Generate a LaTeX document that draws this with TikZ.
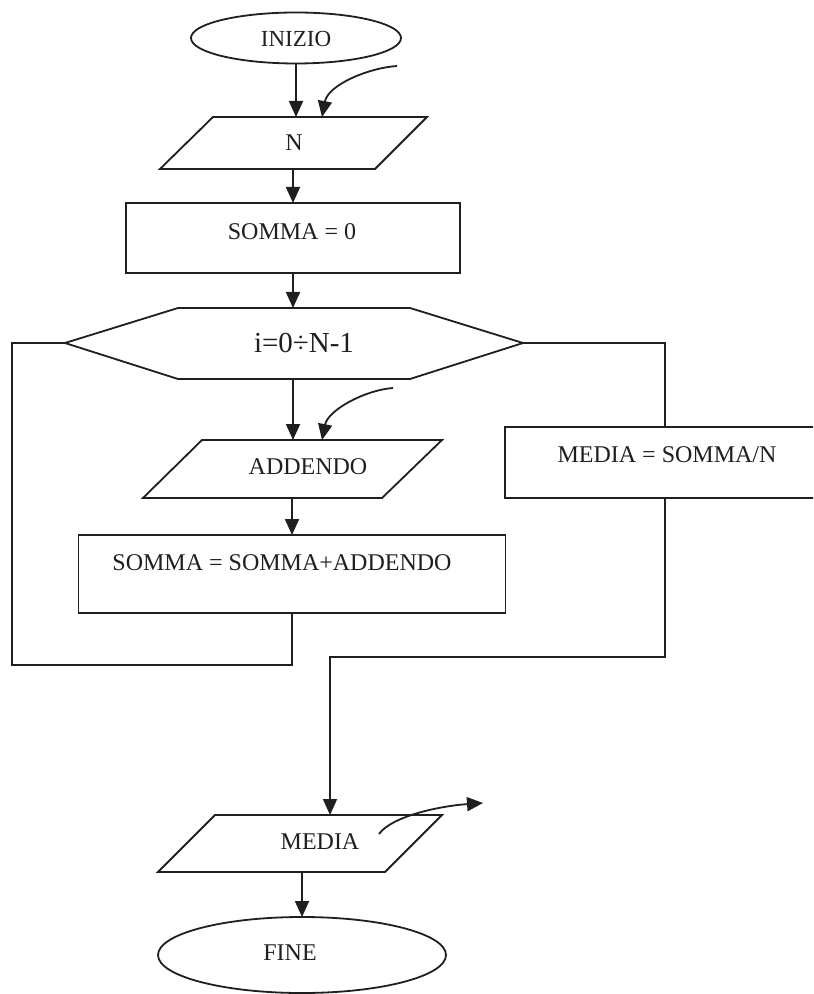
\documentclass[tikz,border=0pt]{standalone}
\usepackage{fontspec}
\setmainfont{Liberation Serif}
\usetikzlibrary{arrows.meta,shapes.geometric}
\begin{document}
\begin{tikzpicture}[x=0.5pt,y=-0.5pt,
  outline/.style={draw=black!88, line width=0.9pt},
  link/.style={draw=black!88, line width=0.9pt},
  flow/.style={link, -{Triangle[length=8pt,width=7pt]}},
  term/.style={outline, ellipse, inner sep=0pt, outer sep=0pt},
  boxnode/.style={outline, rectangle, inner sep=0pt, outer sep=0pt},
  lbl/.style={inner sep=0pt, text=black!88, font=\fontsize{12}{14}\selectfont}]
\useasboundingbox (0,0) rectangle (813,994);
\fill[white] (0,0) rectangle (813,994);
\clip (0,0) rectangle (813,994);

% start terminal
\node[term, minimum width=105pt, minimum height=25.5pt] (start) at (296,38) {};
\node[lbl, font=\fontsize{11.5}{13}\selectfont] (startT) at (296,39) {INIZIO};

% input N
\coordinate (nTL) at (213,117);
\coordinate (nTR) at (427,117);
\coordinate (nBR) at (375,169);
\coordinate (nBL) at (160,169);
\draw[outline] (nTL) -- (nTR) -- (nBR) -- (nBL) -- cycle;
\node[lbl] (nT) at (294,143) {N};
\coordinate (nInS) at (397,66);
\coordinate (nIn) at (322,117);

% SOMMA = 0
\node[boxnode, minimum width=167pt, minimum height=35pt] (s0) at (293,238) {};
\node[lbl] (s0T) at (292,232) {SOMMA = 0};

% loop header
\coordinate (hL) at (65,343);
\coordinate (hTL) at (178,308);
\coordinate (hTR) at (410,308);
\coordinate (hR) at (523,343);
\coordinate (hBR) at (410,379);
\coordinate (hBL) at (178,379);
\coordinate (hTop) at (293,308);
\coordinate (hBot) at (293,379);
\draw[outline] (hL) -- (hTL) -- (hTR) -- (hR) -- (hBR) -- (hBL) -- cycle;
\node[lbl, font=\fontsize{14.5}{17}\selectfont] (hT) at (304,343) {i=0÷N-1};

% input ADDENDO
\coordinate (aTL) at (202,440);
\coordinate (aTR) at (442,440);
\coordinate (aBR) at (382,498);
\coordinate (aBL) at (143,498);
\draw[outline] (aTL) -- (aTR) -- (aBR) -- (aBL) -- cycle;
\node[lbl] (aT) at (308,467) {ADDENDO};
\coordinate (aInS) at (393,388);
\coordinate (aIn) at (322,440);

% SOMMA = SOMMA+ADDENDO
\node[boxnode, minimum width=213.5pt, minimum height=39pt] (ssa) at (292,574) {};
\node[lbl] (ssaT) at (282,563) {SOMMA = SOMMA+ADDENDO};

% MEDIA = SOMMA/N
\node[boxnode, minimum width=160pt, minimum height=35.5pt] (mb) at (665,462.5) {};
\node[lbl] (mbT) at (667,455) {MEDIA = SOMMA/N};

% output MEDIA
\coordinate (mTL) at (215,815);
\coordinate (mTR) at (442,815);
\coordinate (mBR) at (385,872);
\coordinate (mBL) at (158,872);
\draw[outline] (mTL) -- (mTR) -- (mBR) -- (mBL) -- cycle;
\node[lbl] (mT) at (320,842) {MEDIA};
\coordinate (mOutS) at (379,834);
\coordinate (mOut) at (483,803);

% end terminal
\node[term, minimum width=144pt, minimum height=38pt] (stop) at (302,955) {};
\node[lbl] (stopT) at (290,953) {FINE};

% routing points
\coordinate (loopBL) at (12,665);
\coordinate (joinL) at (330,657);

% connectors
\draw[flow] (start.south) -- (start.south |- nTL);
\draw[flow] (nInS) .. controls (368,68) and (328,85) .. (nIn);
\draw[flow] (s0.north |- nBL) -- (s0.north);
\draw[flow] (s0.south) -- (hTop);
\draw[flow] (hBot) -- (hBot |- aTL);
\draw[flow] (aInS) .. controls (365,390) and (328,410) .. (aIn);
\draw[flow] (ssa.north |- aBL) -- (ssa.north);
\draw[link] (ssa.south) |- (loopBL) |- (hL);
\draw[link] (hR) -| (mb.north);
\draw[flow] (mb.south) |- (joinL) -- (joinL |- mTL);
\draw[flow] (mOutS) .. controls (392,816) and (440,806) .. (mOut);
\draw[flow] (stop.north |- mBL) -- (stop.north);
\end{tikzpicture}
\end{document}
